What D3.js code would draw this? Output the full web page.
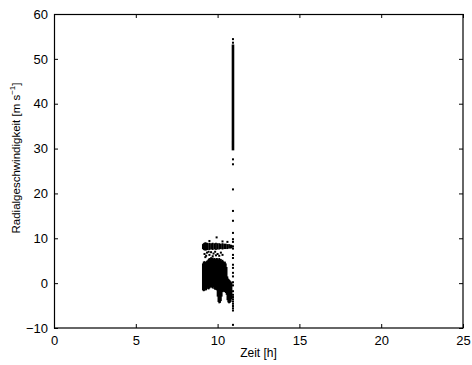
<!DOCTYPE html>
<html>
<head>
<meta charset="utf-8">
<script src="https://d3js.org/d3.v7.min.js"></script>
<style>
  html, body { margin: 0; padding: 0; background: #fff; }
  svg { display: block; }
  text { font-family: "Liberation Sans", Arial, Helvetica, sans-serif; fill: #000; }
</style>
</head>
<body>
<script>
// ---- data ----
const xTicks = [0, 5, 10, 15, 20, 25];
const yTicks = [-10, 0, 10, 20, 30, 40, 50, 60];
const xLabel = "Zeit [h]";
const yLabelMain = "Radialgeschwindigkeit [m s";
const yLabelSup = "\u22121";

// dense band near 8 m/s: [time h, vmin, vmax]
const bandCols = [
  [9.10, 7.6, 8.7], [9.15, 7.4, 8.9], [9.20, 7.3, 9.0], [9.25, 7.3, 9.1],
  [9.30, 7.3, 9.0], [9.35, 7.4, 9.0], [9.40, 7.4, 8.9], [9.50, 7.4, 9.0],
  [9.60, 7.5, 8.9], [9.70, 7.4, 9.0], [9.80, 7.5, 8.9], [9.90, 7.4, 9.0],
  [10.00, 7.5, 8.9], [10.10, 7.5, 8.9], [10.20, 7.6, 8.8], [10.30, 7.5, 8.9],
  [10.40, 7.6, 8.8], [10.50, 7.6, 8.8], [10.60, 7.6, 8.7], [10.70, 7.7, 8.7],
  [10.80, 7.7, 8.6], [10.85, 7.8, 8.5]
];

// dense block between about -4.5 and 5.5 m/s: [time h, vmin, vmax]
const blockCols = [
  [9.10, -1.6, 4.4], [9.15, -1.8, 4.8], [9.20, -1.7, 4.9], [9.25, -1.5, 4.7],
  [9.30, -1.6, 4.8], [9.35, -1.3, 5.0], [9.40, -1.0, 5.1], [9.45, -1.4, 5.4],
  [9.50, -1.2, 5.6], [9.55, -1.0, 5.5], [9.60, -0.8, 5.8], [9.65, -1.0, 5.6],
  [9.70, -1.2, 5.7], [9.75, -0.9, 5.4], [9.80, -1.3, 5.6], [9.85, -1.5, 5.5],
  [9.90, -1.2, 5.3], [9.95, -1.6, 5.6], [10.00, -3.0, 5.5], [10.05, -4.2, 5.3],
  [10.10, -4.5, 5.6], [10.15, -4.4, 5.2], [10.20, -4.0, 5.4], [10.25, -3.0, 5.0],
  [10.30, -2.0, 5.2], [10.35, -1.8, 4.9], [10.40, -2.0, 4.6], [10.45, -1.9, 4.8],
  [10.50, -2.2, 4.4], [10.55, -2.6, 3.6], [10.60, -3.8, 1.5], [10.65, -4.3, 1.0],
  [10.70, -4.5, 0.8], [10.75, -4.4, 0.6], [10.80, -4.2, 0.4], [10.85, -3.6, 0.2]
];

// dense vertical streak at ~10.94 h: [time h, vmin, vmax]
const streakCols = [
  [10.94, 29.6, 53.2]
];

// isolated points: [time h, v]
const scatterPts = [
  [9.20, 6.5], [9.30, 6.1], [9.35, 6.8], [9.50, 6.3], [9.60, 6.9], [9.70, 6.0],
  [9.75, 6.6], [9.85, 7.0], [9.90, 6.2], [10.00, 6.5], [10.10, 6.1], [10.20, 6.8],
  [10.30, 6.3], [9.25, 5.8], [9.45, 7.0],
  [9.94, 10.2], [9.50, 9.4], [10.30, 9.3], [10.60, 9.2],
  [10.94, 54.4], [10.94, 53.6], [10.94, 31.5], [10.94, 31.0], [10.94, 30.4],
  [10.94, 27.6], [10.94, 26.5], [10.94, 20.9], [10.94, 16.1], [10.94, 13.9],
  [10.94, 11.2], [10.94, 9.8], [10.94, 9.2], [10.94, 8.2],
  [10.94, 7.7], [10.94, 6.3], [10.94, 5.6],
  [10.94, 4.1], [10.94, 3.4], [10.94, 2.3], [10.94, 1.5],
  [10.94, 0.2], [10.94, -0.5], [10.94, -1.8],
  [10.94, -2.6], [10.94, -3.1], [10.94, -3.6], [10.94, -4.1], [10.94, -4.6],
  [10.94, -5.1], [10.94, -5.6], [10.94, -6.1], [10.94, -9.3]
];

// ---- layout ----
const W = 472, H = 365;
const m = { left: 54, top: 14, right: 9, bottom: 37 };
const pw = W - m.left - m.right, ph = H - m.top - m.bottom;

const svg = d3.select("body").append("svg").attr("width", W).attr("height", H);
const g = svg.append("g").attr("transform", `translate(${m.left},${m.top})`);

const x = d3.scaleLinear().domain([0, 25]).range([0, pw]);
const y = d3.scaleLinear().domain([-10, 60]).range([ph, 0]);

// data marks
const colW = 1.8;
function drawCols(data) {
  g.append("g").selectAll("rect").data(data).join("rect")
    .attr("x", d => x(d[0]) - colW / 2)
    .attr("width", colW)
    .attr("y", d => y(d[2]))
    .attr("height", d => y(d[1]) - y(d[2]))
    .attr("fill", "#000");
}
drawCols(bandCols);
drawCols(blockCols);
g.append("g").selectAll("rect").data(streakCols).join("rect")
  .attr("x", d => x(d[0]) - 1.3)
  .attr("width", 2.6)
  .attr("y", d => y(d[2]))
  .attr("height", d => y(d[1]) - y(d[2]))
  .attr("fill", "#000");
g.append("g").selectAll("rect").data(scatterPts).join("rect")
  .attr("x", d => x(d[0]) - 1)
  .attr("y", d => y(d[1]) - 1)
  .attr("width", 2).attr("height", 2)
  .attr("fill", "#000");

// axes
const fs = 13;
const ax = g.append("g").attr("transform", `translate(0,${ph})`)
  .call(d3.axisBottom(x).tickValues(xTicks).tickSize(-4).tickPadding(8).tickFormat(d3.format("d")));
const axT = g.append("g")
  .call(d3.axisTop(x).tickValues(xTicks).tickSize(-4).tickFormat(""));
const ay = g.append("g")
  .call(d3.axisLeft(y).tickValues(yTicks).tickSize(-4).tickPadding(6).tickFormat(d => d < 0 ? "\u2212" + Math.abs(d) : d));
const ayR = g.append("g").attr("transform", `translate(${pw},0)`)
  .call(d3.axisRight(y).tickValues(yTicks).tickSize(-4).tickFormat(""));

[ax, axT, ay, ayR].forEach(a => {
  a.select(".domain").remove();
  a.selectAll(".tick line").attr("stroke", "#000").attr("stroke-width", 1);
  a.selectAll("text").attr("font-size", fs).attr("font-family", "'Liberation Sans', Arial, sans-serif").attr("fill", "#000");
});

// box
g.append("rect").attr("x", 0.5).attr("y", 0.5).attr("width", pw - 0.5).attr("height", ph - 0.5)
  .attr("fill", "none").attr("stroke", "#000").attr("stroke-width", 1.2);

// labels
svg.append("text")
  .attr("x", m.left + pw / 2).attr("y", 357)
  .attr("text-anchor", "middle").attr("font-size", 12)
  .text(xLabel);

const yl = svg.append("text")
  .attr("transform", `translate(20,158) rotate(-90)`)
  .attr("text-anchor", "middle").attr("font-size", 11.5);
yl.append("tspan").text(yLabelMain);
yl.append("tspan").attr("font-size", 8).attr("dy", -5).text(yLabelSup);
yl.append("tspan").attr("dy", 5).text("]");
</script>
</body>
</html>
